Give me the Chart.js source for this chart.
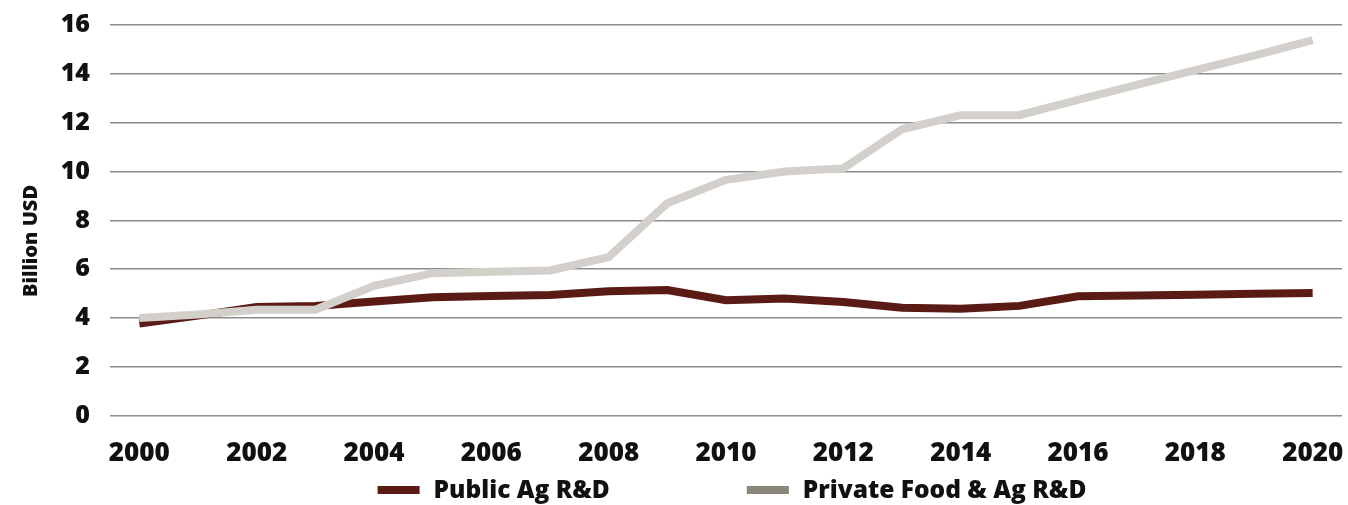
<!DOCTYPE html>
<html>
<head>
<meta charset="utf-8">
<script src="https://cdn.jsdelivr.net/npm/chart.js@4"></script>
<style>
  html, body { margin: 0; padding: 0; background: #fff; overflow: hidden; }
  #wrap { width: 1348px; height: 505px; position: relative; }
  canvas { display: block; }
</style>
</head>
<body>
<div id="wrap"><canvas id="myChart"></canvas></div>
<script>
const years = ["2000","2001","2002","2003","2004","2005","2006","2007","2008","2009","2010",
  "2011","2012","2013","2014","2015","2016","2017","2018","2019","2020"];
const publicAg = [3.78, 4.1, 4.45, 4.5, 4.68, 4.85, 4.9, 4.95, 5.1, 5.15, 4.73,
  4.8, 4.66, 4.42, 4.38, 4.5, 4.89, 4.93, 4.96, 5.0, 5.03];
const privateAg = [4.0, 4.15, 4.34, 4.34, 5.32, 5.84, 5.9, 5.95, 6.5, 8.7, 9.66,
  10.0, 10.13, 11.73, 12.31, 12.31, 12.93, 13.55, 14.15, 14.75, 15.38];
const yTicks = [0, 2, 4, 6, 8, 10, 12, 14, 16];
const yTitle = 'Billion USD';

const fontFam = "'Open Sans', 'Liberation Sans', sans-serif";

// legend and axis title drawn by hand: wide legend gap, title sits a bit low
const legendPlugin = {
  id: 'bottomLegend',
  afterDraw(chart) {
    const ctx = chart.ctx;
    const sets = chart.data.datasets;
    const boxW = 42, boxH = 8, gapText = 14, gapItem = 137;
    ctx.save();
    ctx.font = "800 24.5px " + fontFam;
    ctx.textBaseline = 'middle';
    let total = 0;
    sets.forEach((ds, i) => {
      total += boxW + gapText + ctx.measureText(ds.label).width;
      if (i < sets.length - 1) total += gapItem;
    });
    const area = chart.chartArea;
    let x = (area.left + area.right) / 2 - total / 2 + 6;
    const y = 490;
    sets.forEach(ds => {
      ctx.fillStyle = ds.legendColor;
      ctx.fillRect(x, y - boxH / 2, boxW, boxH);
      x += boxW + gapText;
      ctx.fillStyle = '#111';
      ctx.fillText(ds.label, x, y + 1);
      x += ctx.measureText(ds.label).width + gapItem;
    });

    // y axis title
    ctx.translate(31, 241);
    ctx.rotate(-Math.PI / 2);
    ctx.font = "800 20px " + fontFam;
    ctx.textAlign = 'center';
    ctx.fillText(yTitle, 0, 0);
    ctx.restore();
  }
};

const ctx = document.getElementById("myChart").getContext("2d");
const chart = new Chart(ctx, {
  type: 'line',
  data: {
    labels: years,
    datasets: [
      {
        label: 'Public Ag R&D',
        data: publicAg,
        borderColor: '#5a1b15',
        legendColor: '#5a1b15',
        borderWidth: 8,
        pointRadius: 0,
        tension: 0,
        order: 1
      },
      {
        label: 'Private Food & Ag R&D',
        data: privateAg,
        borderColor: '#d3d0cb',
        legendColor: '#8c8579',
        borderWidth: 8,
        pointRadius: 0,
        tension: 0,
        order: 0
      }
    ]
  },
  options: {
    animation: false,
    responsive: true,
    maintainAspectRatio: false,
    layout: { padding: { left: 20, right: 6, top: 25, bottom: 14 } },
    plugins: {
      legend: { display: false },
      tooltip: { enabled: false }
    },
    scales: {
      x: {
        offset: true,
        afterFit: s => { s.paddingLeft = 0; s.paddingRight = 0; },
        grid: { display: false, drawTicks: false },
        border: { display: false },
        ticks: {
          autoSkip: false,
          maxRotation: 0,
          padding: 22,
          color: '#111',
          font: { family: fontFam, size: 26, weight: '800' },
          callback: function(v, i) { return i % 2 === 0 ? years[i] : null; }
        }
      },
      y: {
        min: 0,
        max: 16,
        afterBuildTicks: s => { s.ticks = yTicks.map(v => ({ value: v })); },
        afterFit: s => { s.width = 90; s.paddingTop = 0; s.paddingBottom = 0; },
        grid: { color: '#8c8c8c', lineWidth: 1.6, drawTicks: false },
        border: { display: false },
        ticks: {
          padding: 20,
          color: '#111',
          font: { family: fontFam, size: 25, weight: '800' }
        },
        title: { display: false }
      }
    }
  },
  plugins: [legendPlugin]
});
</script>
</body>
</html>
